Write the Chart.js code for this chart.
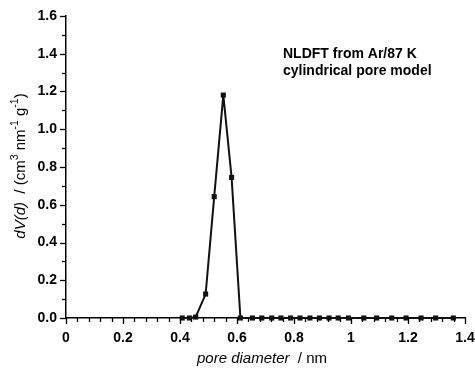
<!DOCTYPE html>
<html>
<head>
<meta charset="utf-8">
<script src="https://cdn.jsdelivr.net/npm/chart.js@4.4.1/dist/chart.umd.min.js"></script>
<style>
  html, body { margin: 0; padding: 0; background: #fff; }
  #wrap { position: relative; width: 475px; height: 369px; }
</style>
</head>
<body>
<div id="wrap"><canvas id="psd"></canvas></div>
<script>
// --- DATA ---
// pore diameter (nm) and dV(d) (cm3 nm-1 g-1)
const poreDiameter = [0.408, 0.433, 0.455, 0.490, 0.520, 0.552, 0.581, 0.612, 0.654, 0.687,
  0.722, 0.754, 0.788, 0.821, 0.856, 0.889, 0.923, 0.955, 0.991, 1.045, 1.090, 1.143,
  1.193, 1.246, 1.297, 1.359];
const dVd = [0.0, 0.0, 0.005, 0.127, 0.643, 1.181, 0.745, 0.0, 0.0, 0.0,
  0.0, 0.0, 0.0, 0.0, 0.0, 0.0, 0.0, 0.0, 0.0, 0.0, 0.0, 0.0,
  0.0, 0.0, 0.0, 0.0];

const xMajorTicks = [0, 0.2, 0.4, 0.6, 0.8, 1.0, 1.2, 1.4];
const xTickLabels = ['0', '0.2', '0.4', '0.6', '0.8', '1', '1.2', '1.4'];
const yMajorTicks = [0, 0.2, 0.4, 0.6, 0.8, 1.0, 1.2, 1.4, 1.6];
const yTickLabels = ['0.0', '0.2', '0.4', '0.6', '0.8', '1.0', '1.2', '1.4', '1.6'];
const annotationLines = ['NLDFT from Ar/87 K', 'cylindrical pore model'];

const FONT = "'Liberation Sans', Arial, sans-serif";

// --- HELPERS ---
// draw runs of text centred on the origin, with optional italic / superscript
function drawRuns(ctx, runs, size) {
  let total = 0;
  runs.forEach(r => {
    const s = r.sup ? size * 0.7 : size;
    ctx.font = (r.italic ? 'italic ' : '') + s + 'px ' + FONT;
    r.w = ctx.measureText(r.text).width;
    total += r.w;
  });
  let x = -total / 2;
  runs.forEach(r => {
    const s = r.sup ? size * 0.7 : size;
    ctx.font = (r.italic ? 'italic ' : '') + s + 'px ' + FONT;
    ctx.fillText(r.text, x, r.sup ? -size * 0.38 : 0);
    x += r.w;
  });
}

// ticks, labels, titles and the annotation
const decorPlugin = {
  id: 'decor',
  afterDraw(chart) {
    const ctx = chart.ctx;
    const xs = chart.scales.x, ys = chart.scales.y;
    const area = chart.chartArea;
    ctx.save();
    ctx.strokeStyle = '#000';
    ctx.fillStyle = '#000';
    ctx.lineWidth = 1.3;

    // x ticks (minor every 0.04)
    for (let i = 0; i <= 35; i++) {
      const px = Math.round(xs.getPixelForValue(i * 0.04)) + 0.5;
      const major = i % 5 === 0;
      ctx.beginPath();
      ctx.moveTo(px, area.bottom);
      ctx.lineTo(px, area.bottom + (major ? 6 : 4));
      ctx.stroke();
    }
    // y ticks (minor every 0.1)
    for (let i = 0; i <= 16; i++) {
      const py = Math.round(ys.getPixelForValue(i * 0.1)) + 0.5;
      const major = i % 2 === 0;
      ctx.beginPath();
      ctx.moveTo(area.left, py);
      ctx.lineTo(area.left - (major ? 6 : 4), py);
      ctx.stroke();
    }

    // tick labels
    ctx.font = 'bold 14px ' + FONT;
    ctx.textAlign = 'center';
    ctx.textBaseline = 'middle';
    xMajorTicks.forEach((v, i) => {
      ctx.fillText(xTickLabels[i], xs.getPixelForValue(v), area.bottom + 20);
    });
    ctx.textAlign = 'right';
    yMajorTicks.forEach((v, i) => {
      ctx.fillText(yTickLabels[i], area.left - 9, ys.getPixelForValue(v));
    });

    // annotation
    ctx.font = 'bold 14px ' + FONT;
    ctx.textAlign = 'left';
    annotationLines.forEach((t, i) => ctx.fillText(t, 283, 54 + i * 17));

    // x title
    ctx.textAlign = 'left';
    ctx.save();
    ctx.translate(262, 359);
    drawRuns(ctx, [
      { text: 'pore diameter', italic: true },
      { text: '  / nm' }
    ], 15);
    ctx.restore();

    // y title
    ctx.save();
    ctx.translate(21, 166);
    ctx.rotate(-Math.PI / 2);
    drawRuns(ctx, [
      { text: 'dV(d)', italic: true },
      { text: '  / (cm' },
      { text: '3', sup: true },
      { text: ' nm' },
      { text: '-1', sup: true },
      { text: ' g' },
      { text: '-1', sup: true },
      { text: ')' }
    ], 15);
    ctx.restore();

    ctx.restore();
  }
};

// --- CHART ---
new Chart(document.getElementById('psd'), {
  type: 'line',
  data: {
    datasets: [{
      data: poreDiameter.map((x, i) => ({ x: x, y: dVd[i] })),
      borderColor: '#111',
      backgroundColor: '#111',
      borderWidth: 2,
      pointStyle: 'rect',
      pointRadius: 3.6,
      pointBorderWidth: 0,
      tension: 0,
      clip: false
    }]
  },
  options: {
    responsive: true,
    maintainAspectRatio: false,
    animation: false,
    events: [],
    layout: { padding: { top: 16, right: 10, left: 0, bottom: 0 } },
    plugins: { legend: { display: false }, tooltip: { enabled: false } },
    scales: {
      x: {
        type: 'linear',
        min: 0, max: 1.4,
        grid: { display: false },
        border: { display: true, color: '#000', width: 1.5 },
        ticks: { display: false },
        afterFit: s => { s.height = 51; }
      },
      y: {
        type: 'linear',
        min: 0, max: 1.6,
        grid: { display: false },
        border: { display: true, color: '#000', width: 1.5 },
        ticks: { display: false },
        afterFit: s => { s.width = 66; }
      }
    }
  },
  plugins: [decorPlugin]
});
</script>
</body>
</html>
